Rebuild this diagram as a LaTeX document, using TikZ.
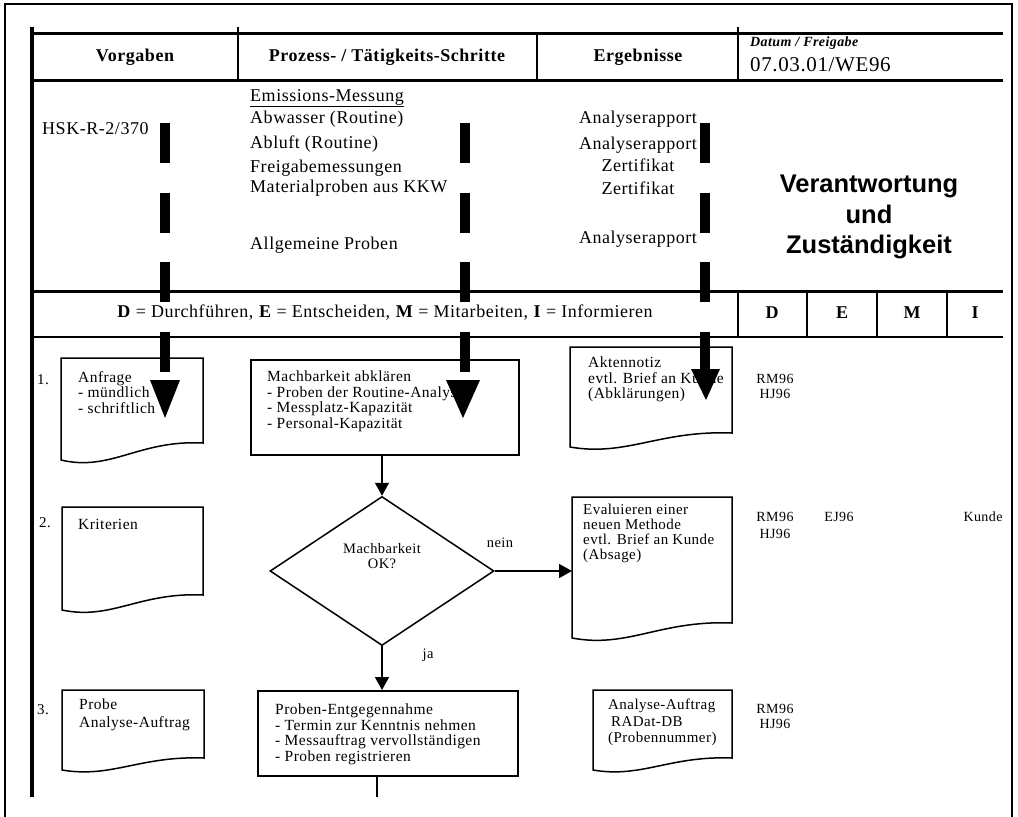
\documentclass[tikz,border=0pt]{standalone}
\usepackage{fontspec}
\setmainfont{Liberation Serif}[LetterSpace=3]
\newfontfamily\sansb{Liberation Sans}
\usetikzlibrary{shapes.geometric,arrows.meta,calc}
\newcommand\mydoc[6]{%
  \pgfmathsetmacro\mdw{#4-#2}%
  \pgfmathsetmacro\mdd{#6-#5}%
  \pgfmathsetmacro\mdax{#2+0.35*\mdw}%
  \pgfmathsetmacro\mday{#6+0.7*\mdd}%
  \pgfmathsetmacro\mdbx{#2+0.55*\mdw}%
  \pgfmathsetmacro\mdby{#5-0.2*\mdd}%
  \pgfmathsetmacro\mdh{#6-#3}%
  \node[inner sep=0, minimum width=\mdw pt, minimum height=\mdh pt, anchor=north west] (#1) at (#2,#3) {};
  \draw[boxline] (#2,#6) -- (#2,#3) -- (#4,#3) -- (#4,#5) .. controls (\mdbx,\mdby) and (\mdax,\mday) .. (#2,#6) -- cycle;
}
\begin{document}
\begin{tikzpicture}[x=1pt,y=-1pt,
  boxline/.style={line width=1.5pt, line join=miter},
  tline/.style={line width=3pt},
  divline/.style={line width=2pt},
  hdr/.style={font=\fontsize{18}{20}\selectfont\bfseries, inner sep=0},
  toptext/.style={font=\fontsize{18}{20}\selectfont, inner sep=0, text height=12pt, text depth=0pt},
  boxtext/.style={font=\fontsize{15.5}{15.5}\selectfont, align=left, inner sep=0, anchor=north west},
  smalltext/.style={font=\fontsize{14}{15}\selectfont, align=center, inner sep=0, anchor=north},
  bigdash/.style={line width=10pt, dash pattern=on 40pt off 29.5pt},
  flow/.style={line width=1.5pt, -{Triangle[length=13pt,width=14pt]}}
]
\useasboundingbox (0,0) rectangle (1018,817);
% outer frame
\draw[line width=2pt] (5,822) -- (5,4) -- (1012,4) -- (1012,822);
% table lines
\draw[tline] (32,33) -- (1003,33);
\draw[tline] (32,80) -- (1003,80);
\draw[tline] (32,291) -- (1003,291);
\draw[line width=2.5pt] (32,337) -- (1003,337);
\draw[line width=4pt] (32,27) -- (32,797);
\draw[divline] (238,27) -- (238,80);
\draw[divline] (537,33) -- (537,80);
\draw[divline] (738,27) -- (738,80);
\draw[divline] (738,291) -- (738,337);
\draw[divline] (807,291) -- (807,337);
\draw[divline] (877,291) -- (877,337);
\draw[divline] (947,291) -- (947,337);
% header
\node[hdr] (h1) at (135,57) {Vorgaben};
\node[hdr] (h2) at (387,57) {Prozess- / Tätigkeits-Schritte};
\node[hdr] (h3) at (638,57) {Ergebnisse};
\node[font=\fontsize{14}{15}\selectfont\bfseries\itshape, anchor=west, inner sep=0] (h4a) at (750,43) {Datum / Freigabe};
\node[font=\fontsize{21}{22}\selectfont, anchor=west, inner sep=0, text height=14pt, text depth=0pt] (h4b) at (750,64) {07.03.01/WE96};
% top section
\node[toptext, anchor=west] (hsk) at (42,128) {HSK-R-2/370};
\node[toptext, anchor=west] (t1) at (250,95) {\underline{Emissions-Messung}};
\node[toptext, anchor=west] (t2) at (250,117) {Abwasser (Routine)};
\node[toptext, anchor=west] (t3) at (250,142) {Abluft (Routine)};
\node[toptext, anchor=west] (t4) at (250,166) {Freigabemessungen};
\node[toptext, anchor=west] (t5) at (250,186) {Materialproben aus KKW};
\node[toptext, anchor=west] (t6) at (250,243) {Allgemeine Proben};
\node[toptext] (r1) at (638,117) {Analyserapport};
\node[toptext] (r2) at (638,143) {Analyserapport};
\node[toptext] (r3) at (638,165) {Zertifikat};
\node[toptext] (r4) at (638,188) {Zertifikat};
\node[toptext] (r5) at (638,237) {Analyserapport};
\node[font=\sansb\fontsize{25.5}{30.5}\selectfont\bfseries, align=center, inner sep=0] (ver) at (869,217) {Verantwortung\\und\\Zuständigkeit};
% legend row
\node[font=\fontsize{18}{20}\selectfont, inner sep=0] (leg) at (385,313) {\textbf{D} = Durchführen, \textbf{E} = Entscheiden, \textbf{M} = Mitarbeiten, \textbf{I} = Informieren};
\node[hdr] (cD) at (772,313) {D};
\node[hdr] (cE) at (842,313) {E};
\node[hdr] (cM) at (912,313) {M};
\node[hdr] (cI) at (975,313) {I};
% row numbers
\node[font=\fontsize{15}{16}\selectfont, inner sep=0] (n1) at (43,380) {1.};
\node[font=\fontsize{15}{16}\selectfont, inner sep=0] (n2) at (45,523) {2.};
\node[font=\fontsize{15}{16}\selectfont, inner sep=0] (n3) at (43,710) {3.};
% row 1
\mydoc{anf}{61}{358}{203}{443}{460}
\node[boxtext] (anft) at (78,371) {Anfrage\\- mündlich\\- schriftlich};
\node[draw, boxline, inner sep=0, minimum width=268pt, minimum height=95pt, anchor=north west] (mach) at (250,359) {};
\node[boxtext] (macht) at (267,371) {Machbarkeit abklären\\- Proben der Routine-Analyse\\- Messplatz-Kapazität\\- Personal-Kapazität};
\mydoc{akt}{570}{347}{732}{433}{447}
\node[boxtext] (aktt) at (588,357) {Aktennotiz\\evtl. Brief an Kunde\\(Abklärungen)};
\node[smalltext] (rs1) at (775,374) {RM96\\HJ96};
% row 2
\mydoc{krit}{62}{507}{203}{595}{610}
\node[boxtext] (kritt) at (78,519) {Kriterien};
\node[draw, boxline, diamond, inner sep=0, minimum width=224pt, minimum height=149pt] (dia) at (382,571) {};
\node[font=\fontsize{14.5}{15}\selectfont, align=center, inner sep=0] (diat) at (382,556) {Machbarkeit\\OK?};
\node[font=\fontsize{14.5}{15}\selectfont, inner sep=0] (nein) at (500,543) {nein};
\node[font=\fontsize{14.5}{15}\selectfont, inner sep=0] (ja) at (428,655) {ja};
\mydoc{evl}{572}{497}{732}{623}{638}
\node[boxtext, font=\fontsize{15}{15}\selectfont] (evlt) at (583,504) {Evaluieren einer\\neuen Methode\\evtl. Brief an Kunde\\(Absage)};
\node[smalltext, font=\fontsize{14}{17}\selectfont] (rs2) at (775,512) {RM96\\HJ96};
\node[smalltext] (es2) at (839,512) {EJ96};
\node[smalltext] (ks2) at (983,512) {Kunde};
% row 3
\mydoc{probe}{62}{690}{204}{758}{770}
\node[boxtext, font=\fontsize{15.5}{18}\selectfont] (probet) at (79,699) {Probe\\Analyse-Auftrag};
\node[draw, boxline, inner sep=0, minimum width=260pt, minimum height=85pt, anchor=north west] (probent) at (257,690) {};
\node[boxtext] (probentt) at (275,704) {Proben-Entgegennahme\\- Termin zur Kenntnis nehmen\\- Messauftrag vervollständigen\\- Proben registrieren};
\mydoc{auf}{593}{690}{732}{758}{770}
\node[boxtext, font=\fontsize{15}{16.5}\selectfont] (auft) at (608,699) {Analyse-Auftrag\\\hspace*{3pt}RADat-DB\\(Probennummer)};
\node[smalltext] (rs3) at (775,704) {RM96\\HJ96};
% connectors
\draw[flow] (mach.south -| dia.north) -- (dia.north);
\draw[flow] (dia.east) -- (dia.east -| evl.west);
\draw[flow] (dia.south) -- (dia.south |- probent.north);
\coordinate (pend) at (377,797);
\draw[boxline] (pend |- probent.south) -- (pend);
% big dashed arrows
\coordinate (a1s) at (165,123); \coordinate (a1e) at (165,371.5);
\coordinate (a2s) at (465,123); \coordinate (a2e) at (465,371.5);
\coordinate (a3s) at (705,123); \coordinate (a3e) at (705,371);
\draw[bigdash] (a1s) -- (a1e);
\draw[bigdash] (a2s) -- (a2e);
\draw[bigdash] (a3s) -- (a3e);
\fill (150,380) -- (180,380) -- (165,418) -- cycle;
\fill (446,380) -- (480,380) -- (463,418) -- cycle;
\fill (691,369) -- (720,369) -- (706,400) -- cycle;
\end{tikzpicture}
\end{document}
